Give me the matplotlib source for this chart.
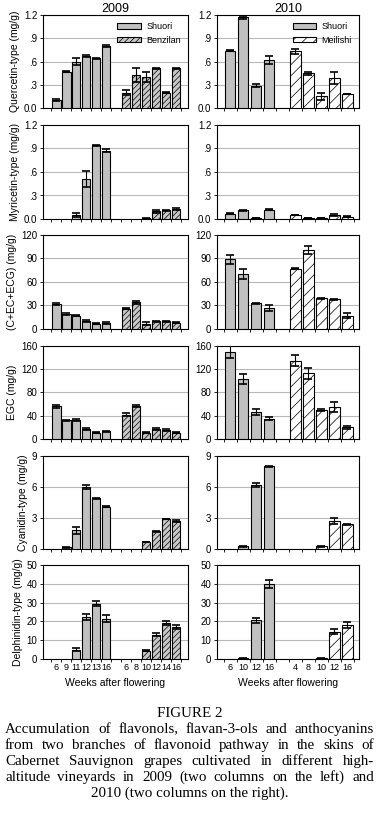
import numpy as np
import matplotlib.pyplot as plt

plt.rcParams['font.family'] = ['Liberation Sans', 'DejaVu Sans']
plt.rcParams['hatch.linewidth'] = 0.5

# x labels (weeks after flowering)
weeks_2009_shuori = ['6', '9', '11', '12', '13', '16']
weeks_2009_benzilan = ['6', '8', '10', '12', '14', '16']
weeks_2010_shuori = ['6', '10', '12', '16']
weeks_2010_meilishi = ['4', '8', '10', '12', '16']

ylabels = ['Quercetin-type (mg/g)', 'Myricetin-type (mg/g)', '(C+EC+ECG) (mg/g)',
           'EGC (mg/g)', 'Cyanidin-type (mg/g)', 'Delphinidin-type (mg/g)']
yticks = [[0, .3, .6, .9, 1.2], [0, .3, .6, .9, 1.2], [0, 30, 60, 90, 120],
          [0, 40, 80, 120, 160], [0, 3, 6, 9], [0, 10, 20, 30, 40, 50]]
ytick_labels = [['0.0', '.3', '.6', '.9', '1.2'], ['0.0', '.3', '.6', '.9', '1.2'],
                ['0', '30', '60', '90', '120'], ['0', '40', '80', '120', '160'],
                ['0', '3', '6', '9'], ['0', '10', '20', '30', '40', '50']]

# each compound: [2009 Shuori, 2009 Benzilan, 2010 Shuori, 2010 Meilishi]
quercetin = [[0.10, 0.47, 0.60, 0.67, 0.64, 0.80], [0.20, 0.43, 0.40, 0.51, 0.20, 0.51],
             [0.74, 1.17, 0.29, 0.62], [0.73, 0.45, 0.15, 0.39, 0.18]]
quercetin_err = [[0.01, 0.01, 0.05, 0.01, 0.01, 0.01], [0.03, 0.09, 0.07, 0.01, 0.005, 0.005],
                 [0.01, 0.02, 0.015, 0.05], [0.03, 0.02, 0.05, 0.08, 0.005]]
myricetin = [[0, 0, 0.05, 0.51, 0.94, 0.87], [0, 0, 0.01, 0.10, 0.11, 0.13],
             [0.07, 0.11, 0.01, 0.12], [0.05, 0.01, 0.01, 0.05, 0.03]]
myricetin_err = [[0, 0, 0.025, 0.10, 0.01, 0.02], [0, 0, 0.005, 0.02, 0.01, 0.01],
                 [0.005, 0.002, 0.002, 0.01], [0.002, 0.002, 0.002, 0.01, 0.005]]
catechins = [[32, 19, 17, 10, 7, 7.5], [26, 34, 7, 10, 10, 8],
             [89, 70, 33, 27], [77, 101, 39, 38, 17]]
catechins_err = [[1, 1, 0.3, 1, 0.3, 1], [1, 1.5, 1.5, 0.5, 0.5, 0.8],
                 [6, 6, 0.5, 4], [1, 5, 0.5, 0.5, 3]]
egc = [[56, 32, 33, 17, 11, 13], [42, 57, 11, 17, 15, 11],
       [150, 103, 47, 35], [135, 113, 50, 55, 20]]
egc_err = [[3, 0.5, 2, 1.5, 0.5, 1.5], [2, 2, 0.5, 1.5, 1.5, 0.5],
           [10, 8, 5, 2], [10, 10, 1, 9, 3]]
cyanidin = [[0, 0.15, 1.8, 6.0, 4.9, 4.1], [0, 0, 0.7, 1.7, 2.9, 2.7],
            [0, 0.25, 6.2, 8.0], [0, 0, 0.25, 2.7, 2.4]]
cyanidin_err = [[0, 0.05, 0.3, 0.2, 0.05, 0.02], [0, 0, 0.02, 0.08, 0.03, 0.1],
                [0, 0.01, 0.2, 0.05], [0, 0, 0.01, 0.3, 0.05]]
delphinidin = [[0, 0, 5, 22.5, 29.5, 21.5], [0, 0, 4.5, 13, 19, 17],
               [0, 0.3, 20.5, 40], [0, 0, 0.3, 14.5, 18]]
delphinidin_err = [[0, 0, 1, 1.5, 1.5, 2], [0, 0, 0.2, 1, 1, 1],
                   [0, 0.1, 1.5, 2], [0, 0, 0.1, 1.2, 1.5]]

compounds = [quercetin, myricetin, catechins, egc, cyanidin, delphinidin]
errors = [quercetin_err, myricetin_err, catechins_err, egc_err, cyanidin_err, delphinidin_err]

W, H = 379, 817
fig = plt.figure(figsize=(W / 100, H / 100), dpi=100)

rows = [(15, 108), (125, 219), (235, 329), (346, 439), (456, 549), (565, 659)]
cols = [(43, 188), (217, 359)]
xlims = [(-1.35, 13.2), (-1.0, 9.9)]

def px_axes(x0, x1, y0, y1):
    return fig.add_axes([x0 / W, 1 - y1 / H, (x1 - x0) / W, (y1 - y0) / H])

def draw_bars(ax, x, vals, errs, **kw):
    vals = np.asarray(vals, float)
    errs = np.asarray(errs, float)
    nz = vals > 0
    ax.bar(x[nz], vals[nz], 0.82, edgecolor='black', linewidth=0.8, zorder=3, **kw)
    ax.errorbar(x[nz], vals[nz], yerr=errs[nz], fmt='none', ecolor='black',
                elinewidth=0.8, capthick=1.2, capsize=3, zorder=4)

for r, (y0, y1) in enumerate(rows):
    for c, (x0, x1) in enumerate(cols):
        ax = px_axes(x0, x1, y0, y1)
        vals = compounds[r]
        errs = errors[r]
        first, second = vals[2 * c], vals[2 * c + 1]
        e1, e2 = errs[2 * c], errs[2 * c + 1]
        n1 = len(first)
        xa = np.arange(n1)
        xb = np.arange(len(second)) + n1 + 1
        draw_bars(ax, xa, first, e1, color='#c0c0c0', label='Shuori')
        if c == 0:
            draw_bars(ax, xb, second, e2, color='#c8c8c8', hatch='//////',
                      label='Benzilan')
        else:
            draw_bars(ax, xb, second, e2, color='white', hatch='///',
                      label='Meilishi')
        ax.set_xlim(*xlims[c])
        ax.set_ylim(yticks[r][0], yticks[r][-1])
        ax.set_yticks(yticks[r])
        ax.set_yticklabels(ytick_labels[r])
        ax.yaxis.grid(True, color='#b8b8b8', linewidth=0.8, zorder=0)
        ax.set_axisbelow(True)
        for s in ax.spines.values():
            s.set_linewidth(0.8)
        ax.tick_params(axis='y', labelsize=7, length=2, width=0.6, pad=2)
        allx = np.concatenate([xa, xb])
        ax.set_xticks(np.arange(-0.5, allx[-1] + 1, 1.0), minor=True)
        ax.tick_params(axis='x', which='minor', length=2.5, width=0.6, direction='out')
        if r == len(rows) - 1:
            labs = (weeks_2009_shuori + weeks_2009_benzilan) if c == 0 else \
                   (weeks_2010_shuori + weeks_2010_meilishi)
            ax.set_xticks(allx)
            ax.set_xticklabels(labs)
            ax.tick_params(axis='x', which='major', length=0, labelsize=6.5, pad=3)
            ax.set_xlabel('Weeks after flowering', fontsize=7.5, labelpad=4)
        else:
            ax.set_xticks([])
        if c == 0:
            ax.set_ylabel(ylabels[r], fontsize=7.5, labelpad=3)
        if r == 0:
            ax.set_title('2009' if c == 0 else '2010', fontsize=9, pad=2)
            ax.legend(loc='upper right', frameon=False, fontsize=6.5, handlelength=2.6,
                      handleheight=0.5, borderaxespad=0.4, labelspacing=0.5,
                      handletextpad=0.6)

# caption (justified, last line centred)
cap_font = dict(fontsize=10.8, family='Liberation Serif')
fig.text(0.5, 1 - 717 / H, 'FIGURE 2', ha='center', va='baseline', **cap_font)
caption = ['Accumulation of flavonols, flavan-3-ols and anthocyanins',
           'from two branches of flavonoid pathway in the skins of',
           'Cabernet Sauvignon grapes cultivated in different high-',
           'altitude vineyards in 2009 (two columns on the left) and',
           '2010 (two columns on the right).']
line_y = [733, 749, 765, 781, 797]
renderer = fig.canvas.get_renderer()
left, right = 5, 374
for i, (line, yy) in enumerate(zip(caption, line_y)):
    yf = 1 - yy / H
    if i == len(caption) - 1:
        fig.text(0.5, yf, line, ha='center', va='baseline', **cap_font)
        continue
    words = line.split(' ')
    texts = [fig.text(0, yf, w, ha='left', va='baseline', **cap_font) for w in words]
    widths = [t.get_window_extent(renderer).width for t in texts]
    gap = (right - left - sum(widths)) / (len(words) - 1)
    x = left
    for t, w in zip(texts, widths):
        t.set_x(x / W)
        x += w + gap

fig.savefig('out.png', dpi=100)
